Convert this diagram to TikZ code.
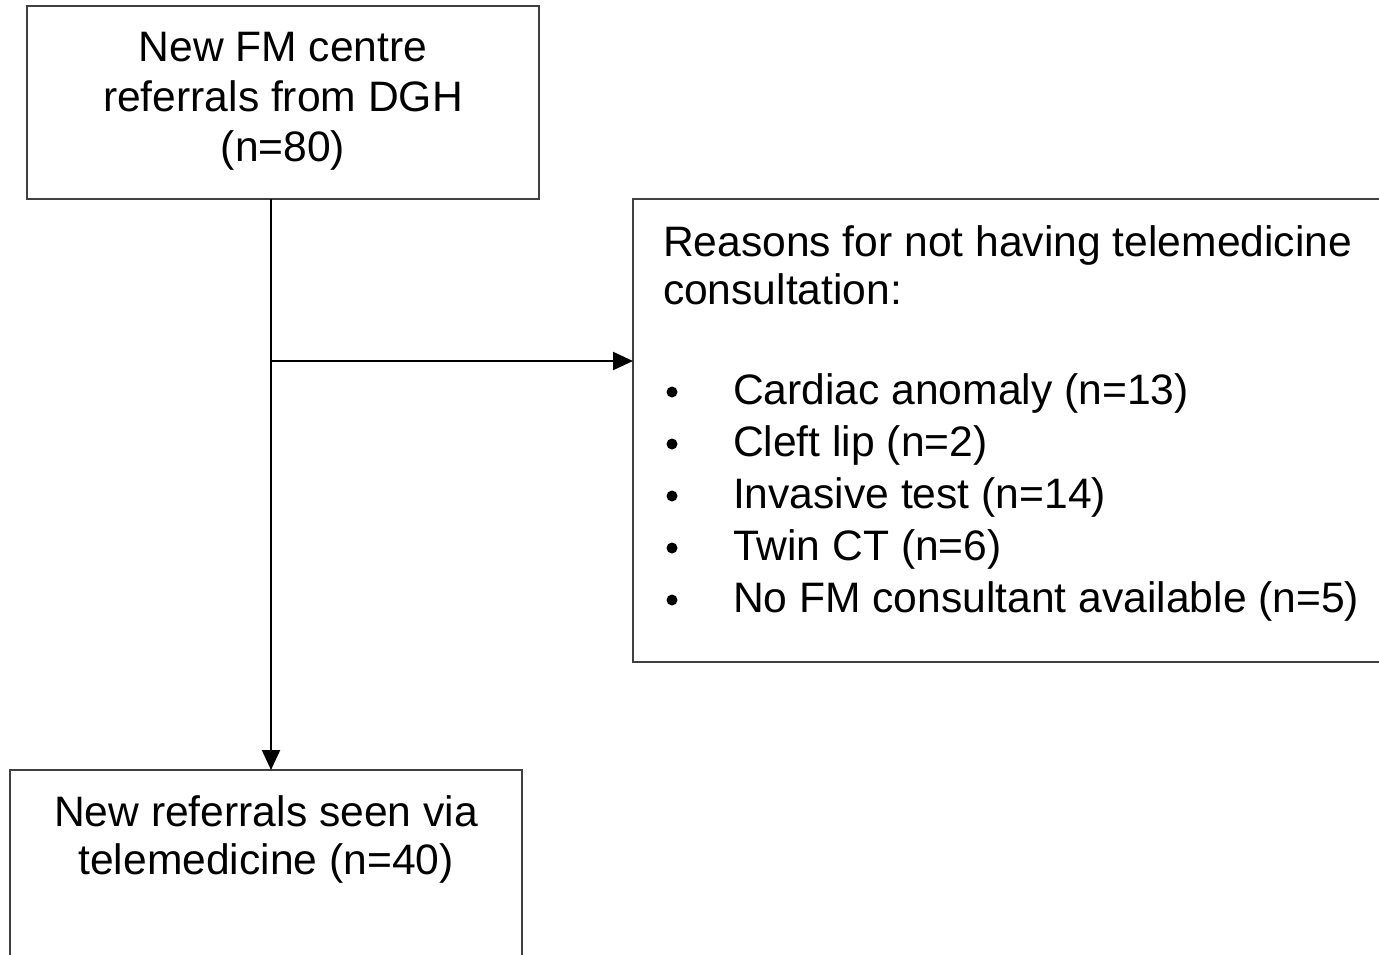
\documentclass[tikz,border=0pt]{standalone}
\usepackage{fontspec}
\setmainfont{Liberation Sans}
\usetikzlibrary{arrows.meta}

\begin{document}
\begin{tikzpicture}[x=1pt,y=-1pt]
\tikzstyle{every node}=[inner sep=0pt, outer sep=0pt]
\tikzstyle{box}=[draw=black!75, line width=2pt, rectangle]
\tikzstyle{txt}=[font=\fontsize{42.6}{50}\selectfont]
\tikzstyle{conn}=[line width=2.2pt, -{Triangle[length=20pt,width=18pt]}]
\useasboundingbox (0,0) rectangle (1379,954);
\clip (0,0) rectangle (1379,954);
% boxes
\draw (283,102.5) node (refs) [box, minimum width=512pt, minimum height=193pt] {};
\draw (1011.5,430.5) node (reasons) [box, minimum width=757pt, minimum height=463pt] {};
\draw (266,870) node (seen) [box, minimum width=512pt, minimum height=200pt] {};
% texts
\draw (283,61) node (refs1) [txt, anchor=base] {New FM centre};
\draw (283,111) node (refs2) [txt, anchor=base] {referrals from DGH};
\draw (283,161) node (refs3) [txt, anchor=base] {(n=80)};
\draw (663,256) node (head1) [txt, anchor=base west] {Reasons for not having telemedicine};
\draw (663,304) node (head2) [txt, anchor=base west] {consultation:};
\foreach \t [count=\i] in {Cardiac anomaly (n=13), Cleft lip (n=2), Invasive test (n=14),
  Twin CT (n=6), No FM consultant available (n=5)} {
  \draw (733,404+52*\i-52) node (reason\i) [txt, anchor=base west] {\t};
  \fill (672,392+52*\i-52) circle (5.5);
}
\draw (266,826) node (seen1) [txt, anchor=base] {New referrals seen via};
\draw (266,874) node (seen2) [txt, anchor=base] {telemedicine (n=40)};
% connectors
\coordinate (fork) at (271,361);
\draw[line width=2.2pt] (refs.south -| fork) -- (fork);
\draw[conn] (fork) -- (seen.north -| fork);
\draw[conn] (fork) -- (fork -| reasons.west);
\end{tikzpicture}
\end{document}
